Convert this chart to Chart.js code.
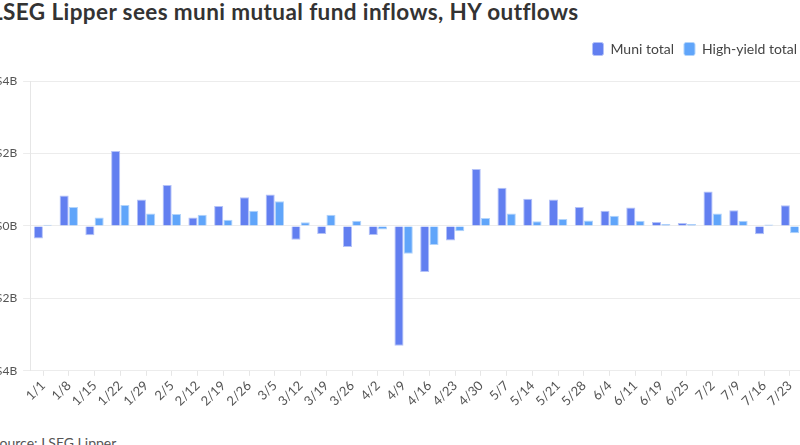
<!DOCTYPE html>
<html>
<head>
<meta charset="utf-8">
<script src="https://cdn.jsdelivr.net/npm/chart.js@4.4.1/dist/chart.umd.min.js"></script>
<style>
  html, body { margin: 0; padding: 0; width: 800px; height: 445px; overflow: hidden; background: #fff; font-family: Lato, sans-serif; }
  #title { position: absolute; left: -9px; top: -2px; font: bold 22.5px Lato, sans-serif; letter-spacing: 0.4px; color: #333; white-space: nowrap; }
  #source { position: absolute; left: -8px; top: 434px; font: 14px Lato, sans-serif; color: #555; white-space: nowrap; }
  #wrap { position: absolute; left: -15px; top: 32px; width: 818px; height: 379px; }
</style>
</head>
<body>
<div id="title">LSEG Lipper sees muni mutual fund inflows, HY outflows</div>
<div id="wrap"><canvas id="c"></canvas></div>
<div id="source">Source: LSEG Lipper</div>
<script>
const categories = ["1/1","1/8","1/15","1/22","1/29","2/5","2/12","2/19","2/26","3/5","3/12","3/19","3/26","4/2","4/9","4/16","4/23","4/30","5/7","5/14","5/21","5/28","6/4","6/11","6/19","6/25","7/2","7/9","7/16","7/23"];
const muniTotal = [-0.35,0.84,-0.26,2.07,0.73,1.13,0.23,0.55,0.79,0.87,-0.38,-0.22,-0.58,-0.25,-3.31,-1.27,-0.40,1.57,1.05,0.75,0.73,0.52,0.42,0.51,0.11,0.08,0.95,0.43,-0.23,0.57];
const highYieldTotal = [0.03,0.52,0.23,0.58,0.34,0.33,0.31,0.17,0.42,0.68,0.10,0.31,0.14,-0.10,-0.77,-0.53,-0.15,0.22,0.34,0.13,0.19,0.15,0.28,0.14,0.055,0.05,0.34,0.14,0.04,-0.20];
const yTicks = [-4,-2,0,2,4];

Chart.defaults.font.family = "Lato, sans-serif";
Chart.defaults.color = "#555";

const legendSpacing = {
  id: 'legendSpacing',
  beforeInit(chart) {
    const origFit = chart.legend.fit;
    chart.legend.fit = function () { origFit.bind(chart.legend)(); this.height += 15; };
  },
  afterLayout(chart) { chart.legend.right += 4; }
};

new Chart(document.getElementById('c'), {
  type: 'bar',
  data: {
    labels: categories,
    datasets: [
      { label: 'Muni total', data: muniTotal, backgroundColor: '#627ff0', borderColor: '#b4c2f8', borderWidth: 1, categoryPercentage: 0.72, barPercentage: 0.98 },
      { label: 'High-yield total', data: highYieldTotal, backgroundColor: '#60a5fa', borderColor: '#b2d4fb', borderWidth: 1, categoryPercentage: 0.72, barPercentage: 0.98 }
    ]
  },
  plugins: [legendSpacing],
  options: {
    responsive: true,
    maintainAspectRatio: false,
    animation: false,
    layout: { padding: 0 },
    plugins: {
      legend: {
        position: 'top', align: 'end',
        labels: { boxWidth: 11, boxHeight: 13, useBorderRadius: true, borderRadius: 2, color: '#444', font: { size: 14 }, padding: 10 }
      },
      tooltip: { enabled: false }
    },
    scales: {
      x: {
        grid: { display: true, drawOnChartArea: false, drawTicks: true, offset: false, tickLength: 5, color: '#e6e6e6' },
        border: { display: false },
        ticks: { maxRotation: 45, minRotation: 45, autoSkip: false, font: { size: 13 }, color: '#555', padding: 2 }
      },
      y: {
        min: -4, max: 4,
        afterBuildTicks: (s) => { s.ticks = yTicks.map(v => ({ value: v })); },
        grid: { color: '#ececec', tickLength: 7 },
        border: { display: true, color: '#e6e6e6' },
        ticks: { font: { size: 12 }, color: '#555', padding: 6,
          callback: (v) => (v < 0 ? '-$' : '$') + Math.abs(v) + 'B' }
      }
    }
  }
});
</script>
</body>
</html>
